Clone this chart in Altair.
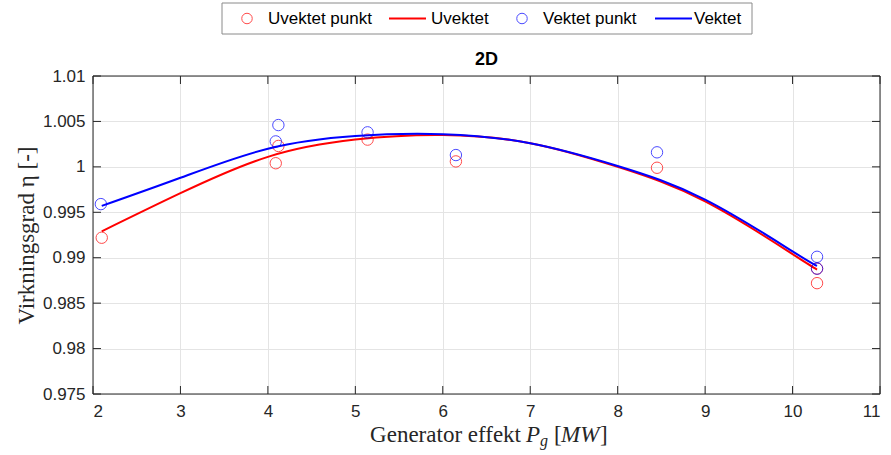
import altair as alt
import pandas as pd

# ---- data ----
x_uvektet_punkt = [2.10, 4.09, 4.12, 5.14, 6.15, 8.45, 10.28, 10.28]
y_uvektet_punkt = [0.9922, 1.0004, 1.0023, 1.0030, 1.0006, 0.9999, 0.9872, 0.9888]

x_vektet_punkt = [2.09, 4.09, 4.12, 5.14, 6.15, 8.45, 10.28, 10.28]
y_vektet_punkt = [0.9959, 1.0028, 1.0046, 1.0038, 1.0013, 1.0016, 0.9901, 0.9888]

x_kurve = [2.10, 3.0, 4.0, 5.0, 6.0, 7.0, 8.0, 9.0, 10.0, 10.28]
y_uvektet = [0.9929, 0.9971, 1.0011, 1.0030, 1.0035, 1.0026, 1.0000, 0.9962, 0.9904, 0.9887]
y_vektet = [0.9957, 0.9988, 1.0020, 1.0034, 1.0036, 1.0026, 1.0001, 0.9964, 0.9907, 0.9891]

x_ticks = [2, 3, 4, 5, 6, 7, 8, 9, 10, 11]
y_ticks = [0.975, 0.98, 0.985, 0.99, 0.995, 1.0, 1.005, 1.01]

W, H = 787, 318
RED, BLUE, AX = "#ff0000", "#0000ff", "#262626"
SANS, SERIF = "Liberation Sans", "Liberation Serif"

xs = alt.Scale(domain=[2, 11], nice=False, zero=False)
ys = alt.Scale(domain=[0.975, 1.01], nice=False, zero=False)

df_up = pd.DataFrame({"x": x_uvektet_punkt, "y": y_uvektet_punkt})
df_vp = pd.DataFrame({"x": x_vektet_punkt, "y": y_vektet_punkt})
df_u = pd.DataFrame({"x": x_kurve, "y": y_uvektet})
df_v = pd.DataFrame({"x": x_kurve, "y": y_vektet})
df_xt = pd.DataFrame({"x": x_ticks})
df_yt = pd.DataFrame({"y": y_ticks})

X = alt.X("x:Q", scale=xs, axis=alt.Axis(values=x_ticks, format="~g", grid=True,
          gridColor="#e4e4e4", domain=False, ticks=False, labelFont=SANS,
          labelFontSize=17, labelColor=AX, labelPadding=9, title=None))
Y = alt.Y("y:Q", scale=ys, axis=alt.Axis(values=y_ticks, format="~g", grid=True,
          gridColor="#e4e4e4", domain=False, ticks=False, labelFont=SANS,
          labelFontSize=17, labelColor=AX, labelPadding=8,
          title="Virkningsgrad η [-]", titleFont=SERIF, titleFontSize=23,
          titleFontWeight="normal", titleColor=AX, titlePadding=4))

pts_u = alt.Chart(df_up).mark_point(shape="circle", filled=False, size=130,
                                    strokeWidth=1, color=RED, opacity=0.7).encode(x=X, y=Y)
line_u = alt.Chart(df_u).mark_line(color=RED, strokeWidth=2, interpolate="natural").encode(
    x="x:Q", y="y:Q")
pts_v = alt.Chart(df_vp).mark_point(shape="circle", filled=False, size=130,
                                    strokeWidth=1, color=BLUE, opacity=0.7).encode(
    x="x:Q", y="y:Q")
line_v = alt.Chart(df_v).mark_line(color=BLUE, strokeWidth=2, interpolate="natural").encode(
    x="x:Q", y="y:Q")

TL = 8
tick_b = alt.Chart(df_xt).mark_rule(color=AX, strokeWidth=1).encode(
    x="x:Q", y=alt.value(H), y2=alt.value(H - TL))
tick_t = alt.Chart(df_xt).mark_rule(color=AX, strokeWidth=1).encode(
    x="x:Q", y=alt.value(0), y2=alt.value(TL))
tick_l = alt.Chart(df_yt).mark_rule(color=AX, strokeWidth=1).encode(
    y="y:Q", x=alt.value(0), x2=alt.value(TL))
tick_r = alt.Chart(df_yt).mark_rule(color=AX, strokeWidth=1).encode(
    y="y:Q", x=alt.value(W), x2=alt.value(W - TL))

one = alt.Data(values=[{"a": 1}])
box = alt.Chart(one).mark_rect(fill=None, stroke=AX, strokeWidth=1).encode(
    x=alt.value(0), x2=alt.value(W), y=alt.value(0), y2=alt.value(H))

# legend
LY = -57.5
leg_box = alt.Chart(one).mark_rect(fill="white", stroke="#8a8a8a", strokeWidth=1).encode(
    x=alt.value(129), x2=alt.value(659), y=alt.value(-73), y2=alt.value(-42))
def leg_text(txt, x):
    return alt.Chart(one).mark_text(text=txt, font=SANS, fontSize=17, color="black",
                                    align="left", baseline="middle").encode(
        x=alt.value(x), y=alt.value(LY))
def leg_circle(col, x):
    return alt.Chart(one).mark_point(shape="circle", filled=False, size=110, strokeWidth=1,
                                     color=col, opacity=0.7).encode(
        x=alt.value(x), y=alt.value(LY))
def leg_line(col, x1, x2):
    return alt.Chart(one).mark_rule(color=col, strokeWidth=2).encode(
        x=alt.value(x1), x2=alt.value(x2), y=alt.value(LY))

legend = [leg_box,
          leg_circle(RED, 154), leg_text("Uvektet punkt", 175),
          leg_line(RED, 296, 333), leg_text("Uvektet", 338),
          leg_circle(BLUE, 429), leg_text("Vektet punkt", 450),
          leg_line(BLUE, 562, 599), leg_text("Vektet", 601)]

title = alt.Chart(one).mark_text(text="2D", font=SANS, fontSize=18, fontWeight="bold",
                                 color="black", align="center", baseline="middle").encode(
    x=alt.value(W / 2), y=alt.value(-16))

# x axis title: Generator effekt P_g [MW]
XB = 366
def xt(txt, x, y=XB, size=23, style="normal", align="left"):
    return alt.Chart(one).mark_text(text=txt, font=SERIF, fontSize=size, fontStyle=style,
                                    color=AX, align=align, baseline="alphabetic").encode(
        x=alt.value(x), y=alt.value(y))
xtitle = [xt("Generator effekt", 428, align="right"),
          xt("P", 433, style="italic"),
          xt("g", 447, y=XB + 4, size=16, style="italic"),
          xt("[", 461),
          xt("MW", 468, style="italic"),
          xt("]", 507)]

chart = alt.layer(pts_u, line_u, pts_v, line_v, tick_b, tick_t, tick_l, tick_r, box,
                  *legend, title, *xtitle).properties(
    width=W, height=H,
    autosize=alt.AutoSizeParams(type="none"),
    padding={"left": 93, "top": 76, "right": 11, "bottom": 61},
).configure_view(stroke=None).configure(background="white")

chart.save("out.html", embed_options={"renderer": "svg", "actions": False})
